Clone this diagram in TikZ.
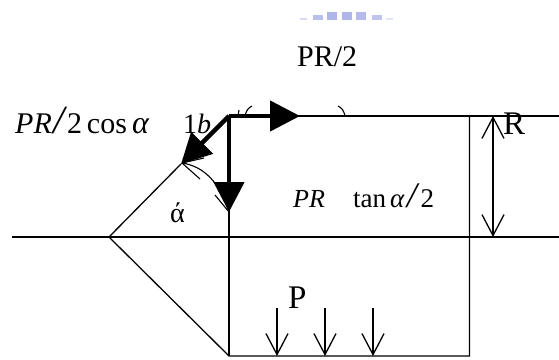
\documentclass[tikz,border=0pt]{standalone}
\usepackage{fontspec}
\setmainfont{Liberation Serif}
\usetikzlibrary{arrows.meta}
\definecolor{logoblue}{RGB}{140,150,225}
\newcommand{\tallslash}{{\fontsize{40}{40}\selectfont\textit{/}}}
\newcommand{\midslash}{{\fontsize{36}{36}\selectfont\textit{/}}}
\tikzset{
  x=1pt,y=-1pt,
  ln/.style={line width=1.3pt,black},
  thin mark/.style={line width=1.1pt,black},
  thick arrow/.style={line width=4.5pt,-{Triangle[length=30pt,width=30pt]}},
  barb/.tip={Straight Barb[length=21pt,width=22pt,line width=1.3pt]},
  open arrow/.style={line width=1.3pt,-barb},
  lab/.style={inner sep=0pt,font=\fontsize{30}{32}\selectfont},
}
\begin{document}
\begin{tikzpicture}
\useasboundingbox (0,0) rectangle (559,359);
\fill[white] (0,0) rectangle (559,359);
% logo remnant
\foreach \x/\w/\t/\o in {300/7/18/35,313/10/15/60,327/10/12/70,342/10/12/70,356/10/12/65,372/10/15/55,386/7/18/25}{
  \fill[logoblue,opacity=0.\o] (\x,\t) rectangle (\x+\w,20);}
\coordinate (tip) at (109,237);
\coordinate (bl) at (229,356);
\coordinate (tl) at (229,116);
\coordinate (br) at (469.5,356);
\coordinate (tr) at (469.5,116);
\coordinate (shoulder) at (181,164);
\coordinate (axisL) at (12,237);
\coordinate (axisR) at (559,237);
\coordinate (topR) at (559,116);
\draw[ln] (axisL) -- (axisR);
\draw[ln] (tl) -- (topR);
\draw[ln] (shoulder) -- (tip) -- (bl) -- (br) -- (tr);
\draw[ln] (tl) -- (bl);
% small arcs and their open heads
\draw[thin mark] (182,163) .. controls (203,166) and (220,182) .. (229,212);
\draw[thin mark] (182,163) -- (200,179);
\draw[thin mark] (182,163) -- (204,158);
\draw[thin mark] (215,195) -- (229,212);
\draw[thin mark] (245,116) .. controls (246,111) and (248,108) .. (252,106);
\draw[thin mark] (239,110) -- (238,116);
\draw[thin mark] (338,106) .. controls (342,108) and (344,111) .. (345,116);
% thick arrows
\coordinate (f1) at (300,116);
\coordinate (f2) at (181,164);
\coordinate (f3) at (229,212);
\draw[thick arrow] (tl) -- (f1);
\draw[thick arrow] (tl) -- (f2);
\draw[thick arrow] (tl) -- (f3);
% R dimension
\coordinate (r1) at (493,116);
\coordinate (r2) at (493,237);
\draw[line width=1.3pt,barb-barb] (r1) -- (r2);
% load arrows
\coordinate (p1s) at (277,308); \coordinate (p1e) at (277,356);
\coordinate (p2s) at (325,308); \coordinate (p2e) at (325,356);
\coordinate (p3s) at (373,308); \coordinate (p3e) at (373,356);
\draw[open arrow] (p1s) -- (p1e);
\draw[open arrow] (p2s) -- (p2e);
\draw[open arrow] (p3s) -- (p3e);
% labels
\node[lab,anchor=base west] (lbPR) at (297,66) {PR/2};
\node[lab,anchor=base west] (lbcos) at (15,133) {\textit{PR}\kern2pt\tallslash\kern-1pt 2\kern5pt cos\kern5pt{\fontsize{32}{32}\selectfont\textit{α}}};
\node[lab,anchor=base west,font=\fontsize{28}{30}\selectfont] (lb1b) at (183,133) {1\textit{b}};
\node[lab,anchor=base west,font=\fontsize{33}{35}\selectfont] (lbR) at (503,134) {R};
\node[lab,anchor=base west,font=\fontsize{33}{35}\selectfont] (lbP) at (288,308) {P};
\node[lab,anchor=base west,font=\fontsize{28}{30}\selectfont] (lba) at (170,222) {ά};
\node[lab,anchor=base west,font=\fontsize{26}{28}\selectfont] (lbt1) at (293,207) {\textit{PR}};
\node[lab,anchor=base west,font=\fontsize{27}{29}\selectfont] (lbt2) at (353,207) {tan\kern4pt\textit{α}\kern2pt\midslash\kern1pt 2};
\end{tikzpicture}
\end{document}
